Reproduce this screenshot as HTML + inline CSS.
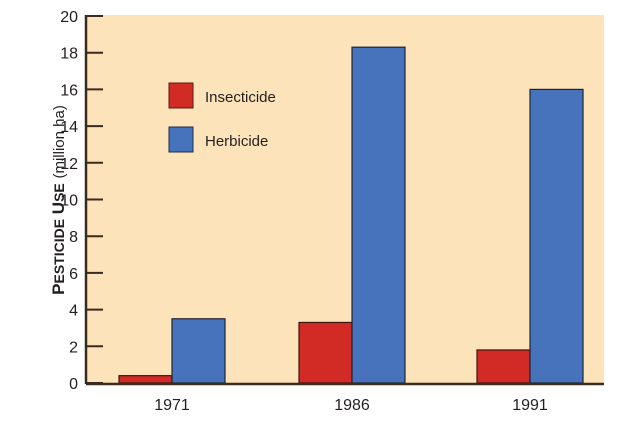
<!DOCTYPE html>
<html><head><meta charset="utf-8"><style>
html,body{margin:0;padding:0;background:#fff;}
svg{display:block;font-family:"Liberation Sans Narrow","Liberation Sans",sans-serif;}
</style></head><body>
<svg width="641" height="427" viewBox="0 0 641 427">
<rect x="86" y="15" width="518" height="369" fill="#fde3b9"/>
<g id="yaxis"></g>
<g id="bars"></g>
<g id="xaxis"></g>
<text transform="translate(64,200) rotate(-90)" text-anchor="middle" font-size="17" font-weight="bold" fill="#231f20">P<tspan font-size="14">ESTICIDE</tspan> U<tspan font-size="14">SE</tspan> <tspan font-weight="normal" font-size="15">(million ha)</tspan></text>
<g>
<rect x="169" y="83" width="24" height="25" fill="#d22b25" stroke="#5a1a14" stroke-width="1"/>
<text x="205" y="102" font-size="15" fill="#231f20">Insecticide</text>
<rect x="169" y="127" width="24" height="25" fill="#4673bb" stroke="#1f2e4a" stroke-width="1"/>
<text x="205" y="146" font-size="15" fill="#231f20">Herbicide</text>
</g>
</svg>
<script>
const categories = ["1971", "1986", "1991"];
const insecticide = [0.4, 3.3, 1.8];
const herbicide = [3.5, 18.3, 16.0];
const yTicks = [0, 2, 4, 6, 8, 10, 12, 14, 16, 18, 20];

const NS = "http://www.w3.org/2000/svg";
const x0 = 86, x1 = 604, yBottom = 383, yTop = 16, yMax = 20;
function y(v){ return yBottom - (v / yMax) * (yBottom - yTop); }
const groupStart = [119, 299, 477];
const bw = 53;
function xGroup(i){ return x0 + 33 + i * ((x1 - x0 - 66) / (categories.length - 0.07)) ; }
function mk(tag, attrs){ const e = document.createElementNS(NS, tag); for (const k in attrs) e.setAttribute(k, attrs[k]); return e; }

const ya = document.getElementById("yaxis");
yTicks.forEach(t => {
  const l = mk("line", {x1: x0, x2: x0 + 17, y1: y(t), y2: y(t), stroke: "#3b2a1e", "stroke-width": 2});
  
  
  ya.appendChild(l);
  const tx = mk("text", {x: 78, y: y(t) + 6, "text-anchor": "end", "font-size": 16, fill: "#231f20"});
  tx.textContent = t;
  
  
  ya.appendChild(tx);
});
const yl = mk("line", {x1: x0, x2: x0, y1: 15, y2: 384, stroke: "#3b2a1e", "stroke-width": 2.5});


ya.appendChild(yl);

const bars = document.getElementById("bars");
const xa = document.getElementById("xaxis");
categories.forEach((c, i) => {
  const gx = 119 + i * ((477 - 119) / 2) + (i === 1 ? 1 : 0);
  const r = mk("rect", {x: gx, y: y(insecticide[i]), width: bw, height: yBottom - y(insecticide[i]), fill: "#d22b25", stroke: "#3a1410", "stroke-width": 1.2});
  
  
  bars.appendChild(r);
  const b = mk("rect", {x: gx + bw, y: y(herbicide[i]), width: bw, height: yBottom - y(herbicide[i]), fill: "#4673bb", stroke: "#1c2433", "stroke-width": 1.2});
  
  
  bars.appendChild(b);
  const t = mk("text", {x: gx + bw, y: 410, "text-anchor": "middle", "font-size": 16, fill: "#231f20"});
  t.textContent = c;
  
  
  xa.appendChild(t);
});
const xl = mk("line", {x1: x0, x2: x1, y1: 384, y2: 384, stroke: "#3b2a1e", "stroke-width": 2.5});


xa.appendChild(xl);
</script>
</body></html>
